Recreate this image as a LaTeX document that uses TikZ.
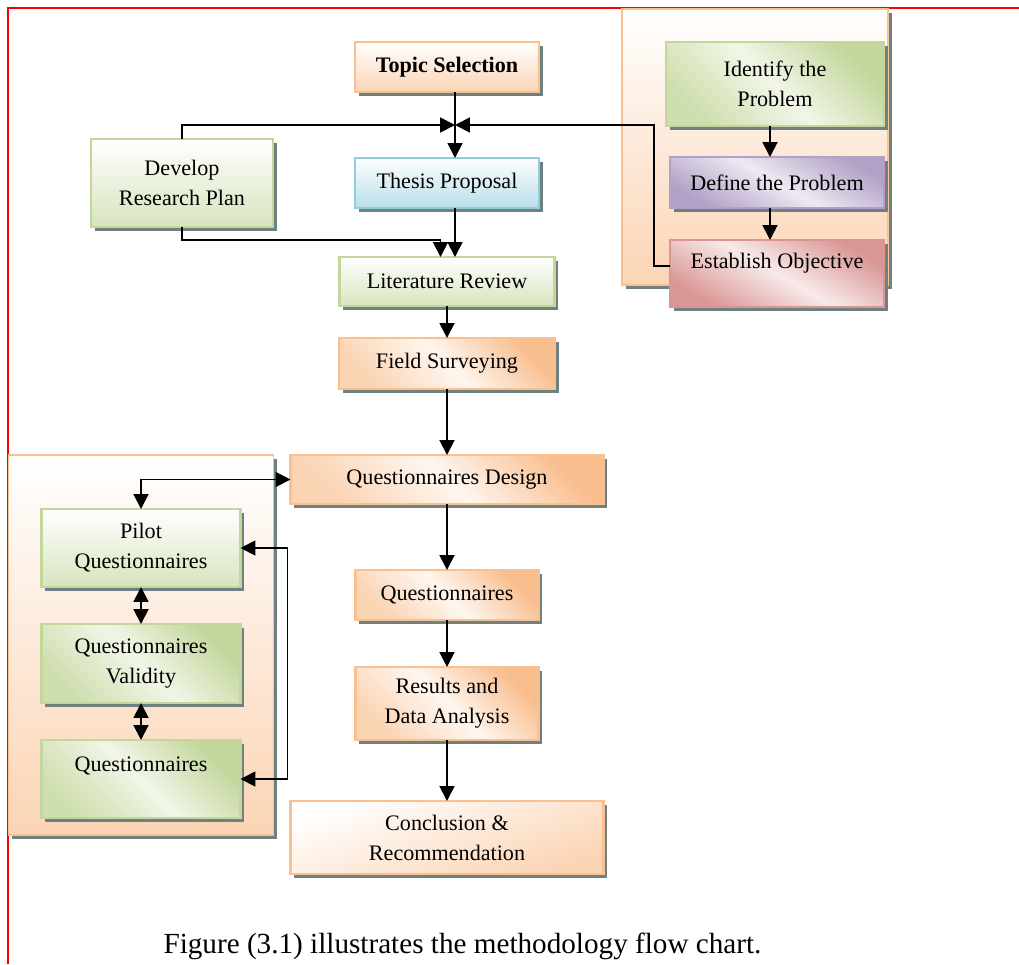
\documentclass[tikz,border=0pt]{standalone}
\usepackage{fontspec}
\setmainfont{Liberation Serif}
\usepackage{xcolor}
\usepackage{tikz}
\usetikzlibrary{arrows.meta, positioning, calc, shadows, backgrounds}

\definecolor{peach}{HTML}{FBD4B4}
\definecolor{peachdark}{HTML}{F9BE8E}
\definecolor{peachline}{HTML}{FAC090}
\definecolor{leaf}{HTML}{D7E4BD}
\definecolor{leafdark}{HTML}{C3D69B}
\definecolor{sky}{HTML}{B7DEE8}
\definecolor{skyline}{HTML}{92CDDC}
\definecolor{lilac}{HTML}{CCC1DA}
\definecolor{lilacdark}{HTML}{B2A1C7}
\definecolor{rose}{HTML}{E6B9B8}
\definecolor{rosedark}{HTML}{D99694}
\definecolor{shadowgray}{HTML}{6F8080}

\begin{document}
\begin{tikzpicture}[
    node distance=1.32cm,
    >={Triangle[length=8.5pt, width=8.5pt]},
    box/.style={rectangle, draw, line width=1.3pt, inner sep=0pt, outer sep=0pt, align=center,
        font=\fontsize{12.6}{17}\selectfont,
        drop shadow={shadow xshift=0.07cm, shadow yshift=-0.07cm, fill=shadowgray, opacity=1}},
    peachbox/.style={draw=peachline, top color=white, bottom color=peach},
    peachdiag/.style={draw=peachline, top color=peachdark, bottom color=peach, middle color=peach!20, shading angle=-45},
    greenbox/.style={draw=leafdark, top color=white, bottom color=leaf},
    greendiag/.style={draw=leafdark, top color=leafdark, bottom color=leafdark!80, middle color=leaf!35, shading angle=-45},
    bluebox/.style={draw=skyline, top color=white, bottom color=sky},
    purplebox/.style={draw=lilacdark, top color=lilacdark, bottom color=lilacdark, middle color=lilac!35, shading angle=-30},
    rosebox/.style={draw=rosedark, top color=rosedark, bottom color=rosedark, middle color=rose!30, shading angle=-30},
    groupbox/.style={draw=peachline, line width=1.1pt, top color=white, bottom color=peach,
        drop shadow={shadow xshift=0.07cm, shadow yshift=-0.07cm, fill=shadowgray, opacity=1}},
    arrow/.style={->, line width=1.1pt}
]
    \useasboundingbox (0,0) rectangle (20.38,-19.28);

    % main column
    \node[box, peachbox, minimum width=3.68cm, minimum height=1cm, font=\fontsize{12.6}{17}\selectfont\bfseries] (topic) at (8.94,-1.34) {Topic Selection};
    \node[box, bluebox, minimum width=3.68cm, minimum height=1cm, below=1.32cm of topic] (thesis) {Thesis Proposal};
    \node[box, greenbox, minimum width=4.3cm, minimum height=0.98cm, below=0.98cm of thesis] (litrev) {Literature Review};
    \node[box, peachdiag, minimum width=4.32cm, minimum height=1.02cm, below=0.64cm of litrev] (field) {Field Surveying};
    \node[box, peachdiag, minimum width=6.26cm, minimum height=0.98cm, below=1.32cm of field] (qd) {Questionnaires Design};
    \node[box, peachdiag, minimum width=3.66cm, minimum height=1cm, below=1.32cm of qd] (quest) {Questionnaires};
    \node[box, peachdiag, minimum width=3.66cm, minimum height=1.46cm, below=0.94cm of quest] (results) {Results and\\Data Analysis};
    \node[box, peachbox, shading angle=20, minimum width=6.26cm, minimum height=1.46cm, below=1.22cm of results] (concl) {Conclusion \&\\Recommendation};

    % side boxes
    \node[box, greenbox, minimum width=3.64cm, minimum height=1.76cm, left=1.64cm of thesis] (develop) {Develop\\Research Plan};
    \node[box, greendiag, minimum width=4.36cm, minimum height=1.68cm, right=2.54cm of topic, yshift=-3.4mm] (identify) {Identify the\\Problem};
    \node[box, purplebox, minimum width=4.28cm, minimum height=1.02cm, below=0.62cm of identify, xshift=0.4mm] (define) {Define the Problem};
    \node[box, rosebox, minimum width=4.28cm, minimum height=1.34cm, text depth=15pt, below=0.64cm of define] (establish) {Establish Objective};

    \node[box, greenbox, minimum width=3.98cm, minimum height=1.56cm, left=1cm of qd, yshift=-13.7mm] (pilot) {Pilot\\Questionnaires};
    \node[box, greendiag, minimum width=3.98cm, minimum height=1.58cm, below=0.74cm of pilot] (validity) {Questionnaires\\Validity};
    \node[box, greendiag, minimum width=3.98cm, minimum height=1.56cm, below=0.74cm of validity] (qleft) {Questionnaires\\~};

    \node[font=\fontsize{16.6}{20}\selectfont, anchor=base] (caption) at (9.25,-19.06) {Figure (3.1) illustrates the methodology flow chart.};

    % frame and group boxes
    \begin{scope}[on background layer]
        \draw[red, line width=1.1pt] (0.16,-19.28) |- (20.38,-0.16);
        \draw[groupbox] ([shift={(-0.88,0.66)}]identify.north west) rectangle ([shift={(0.08,-0.23)}]establish.east);
        \draw[groupbox] ([shift={(-0.66,1.08)}]pilot.north west) rectangle ([shift={(0.66,-0.34)}]qleft.south east);
    \end{scope}

    \coordinate (merge) at ($([xshift=1.6mm]topic.south)!0.5!([xshift=1.6mm]thesis.north)$);

    \draw[arrow] ([xshift=1.6mm]topic.south) -- ([xshift=1.6mm]thesis.north);
    \draw[arrow] (develop.north) |- (merge);
    \draw[arrow] ([yshift=1.5mm]establish.west) -- ++(-0.32,0) |- (merge);
    \draw[arrow] (develop.south) -- ++(0,-0.26) -| ([xshift=-1.3mm]litrev.north);
    \draw[arrow] ([xshift=1.6mm]thesis.south) -- ([xshift=1.6mm]thesis.south |- litrev.north);
    \draw[arrow] ([xshift=-1mm]identify.south) -- ([xshift=-1mm]identify.south |- define.north);
    \draw[arrow] ([xshift=-1mm]identify.south |- define.south) -- ([xshift=-1mm]identify.south |- establish.north);
    \draw[arrow] (litrev) -- (field);
    \draw[arrow] (field.south) -- (field.south |- qd.north);
    \draw[arrow] (field.south |- qd.south) -- (field.south |- quest.north);
    \draw[arrow] (quest) -- (results);
    \draw[arrow] (results) -- (results |- concl.north);
    \draw[arrow, <->] (qd.west) -| (pilot.north);
    \draw[arrow, <->] (pilot.east) -- ++(0.94,0) |- (qleft.east);
    \draw[arrow, <->] (pilot) -- (validity);
    \draw[arrow, <->] (validity) -- (qleft);
\end{tikzpicture}
\end{document}
